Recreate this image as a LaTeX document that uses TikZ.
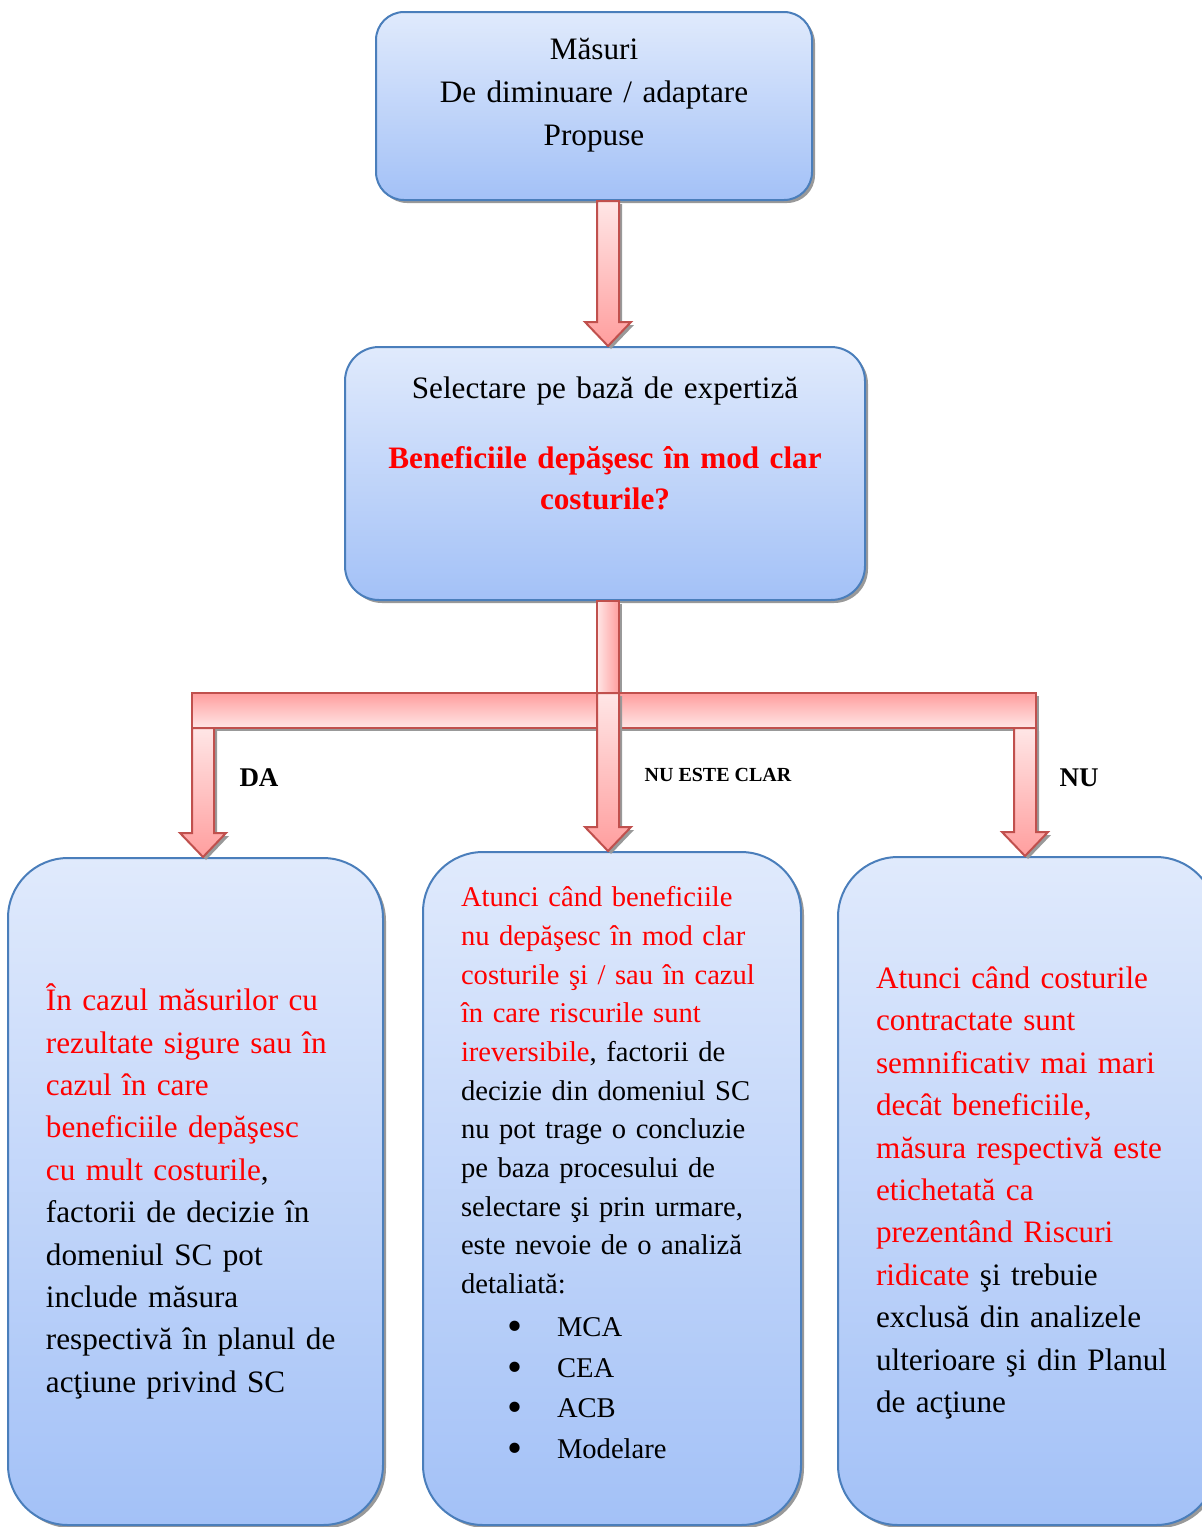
\documentclass[tikz,border=0pt]{standalone}
\usepackage{fontspec}
\setmainfont{Liberation Serif}
\definecolor{boxtop}{RGB}{224,234,252}
\definecolor{boxbot}{RGB}{163,193,247}
\definecolor{boxline}{RGB}{74,126,187}
\definecolor{arrline}{RGB}{192,80,77}
\definecolor{arrlight}{RGB}{255,230,230}
\definecolor{arrdark}{RGB}{255,158,158}
\definecolor{txtred}{RGB}{255,0,0}
\usetikzlibrary{calc, shadows}
\tikzset{
	box/.style={rectangle, rounded corners=#1, draw=boxline, line width=1pt, top color=boxtop, bottom color=boxbot, drop shadow={shadow xshift=1.5pt, shadow yshift=-1.5pt, fill=black!40, opacity=1}},
	box/.default=14pt,
	blockarrow/.style={draw=arrline, line width=1pt, line join=miter, top color=arrlight, bottom color=arrdark, drop shadow={shadow xshift=1.5pt, shadow yshift=-1.5pt, fill=black!40, opacity=1}},
	boxtext/.style={inner sep=0pt, align=left, text width=#1, font=\fontsize{15.6}{21.2}\selectfont},
	smalltext/.style={inner sep=0pt, align=left, text width=#1, font=\fontsize{14.3}{19.35}\selectfont},
	answer/.style={inner sep=0pt, font=\bfseries\fontsize{13.5}{16}\selectfont},
}
\newcommand{\rd}[1]{\textcolor{txtred}{#1}}
\newcommand{\bul}[1]{\hspace*{23pt}\makebox[25pt][l]{\raisebox{-2pt}{\scalebox{1.5}{\textbullet}}}#1}
% block arrow pointing down: start of the shaft, tip
\newcommand{\blockdown}[2]{%
	\path[blockarrow] ($(#1)+(-11,0)$) -- ($(#2)+(-11,-24)$) -- ($(#2)+(-23,-24)$) -- (#2)
		-- ($(#2)+(23,-24)$) -- ($(#2)+(11,-24)$) -- ($(#1)+(11,0)$) -- cycle;}

\begin{document}
\begin{tikzpicture}[x=0.5pt, y=-0.5pt]
	\useasboundingbox (0,0) rectangle (1202,1527);
	\clip (0,0) rectangle (1202,1527);
	% boxes
	\node[box, minimum width=218pt, minimum height=94pt] (top) at (594,106) {};
	\node[box=17pt, minimum width=260pt, minimum height=126.5pt] (sel) at (605,473.5) {};
	\node[box=30pt, minimum width=187.5pt, minimum height=333.5pt] (da) at (195.5,1191.5) {};
	\node[box=30pt, minimum width=189pt, minimum height=336.5pt] (unclear) at (612,1188.5) {};
	\node[box=30pt, minimum width=189pt, minimum height=334pt] (nu) at (1027,1191) {};
	% texts
	\node[boxtext=218pt, align=center, font=\fontsize{15.6}{21.5}\selectfont] (top-txt) at ($(top.center)+(0,-11)$)
		{Măsuri\\De diminuare / adaptare\\Propuse};
	\node[boxtext=260pt, align=center, font=\fontsize{15.6}{20.5}\selectfont] (sel-txt) at ($(sel.center)+(0,-30)$)
		{Selectare pe bază de expertiză\\[14.5pt]
		\rd{\textbf{Beneficiile depăşesc în mod clar}}\\
		\rd{\textbf{costurile?}}};
	\node[boxtext=149.5pt] (da-txt) at (da.center)
		{\rd{În cazul măsurilor cu}\\
		\rd{rezultate sigure sau în}\\
		\rd{cazul în care}\\
		\rd{beneficiile depăşesc}\\
		\rd{cu mult costurile},\\
		factorii de decizie în\\
		domeniul SC pot\\
		include măsura\\
		respectivă în planul de\\
		acţiune privind SC};
	\node[smalltext=151pt] (unclear-txt) at ($(unclear.center)+(0,-14)$)
		{\rd{Atunci când beneficiile}\\
		\rd{nu depăşesc în mod clar}\\
		\rd{costurile şi / sau în cazul}\\
		\rd{în care riscurile sunt}\\
		\rd{ireversibile}, factorii de\\
		decizie din domeniul SC\\
		nu pot trage o concluzie\\
		pe baza procesului de\\
		selectare şi prin urmare,\\
		este nevoie de o analiză\\
		detaliată:\\[2pt]
		\bul{MCA}\\[1pt]
		\bul{CEA}\\[1pt]
		\bul{ACB}\\[1pt]
		\bul{Modelare}};
	\node[boxtext=151pt] (nu-txt) at ($(nu.center)+(0,2)$)
		{\rd{Atunci când costurile}\\
		\rd{contractate sunt}\\
		\rd{semnificativ mai mari}\\
		\rd{decât beneficiile,}\\
		\rd{măsura respectivă este}\\
		\rd{etichetată ca}\\
		\rd{prezentând Riscuri}\\
		\rd{ridicate} şi trebuie\\
		exclusă din analizele\\
		ulterioare şi din Planul\\
		de acţiune};
	% connectors
	\coordinate (axis) at (608,0);
	\coordinate (barNW) at (192,693);
	\coordinate (barSE) at (1036,728);
	\coordinate (daX) at (203,728);
	\coordinate (nuX) at (1025,728);
	\blockdown{top.south -| axis}{sel.north -| axis}
	\path[blockarrow, left color=arrlight, right color=arrdark]
		($(sel.south -| axis)+(-11,0)$) rectangle ($(axis |- barNW)+(11,0)$);
	\path[blockarrow, top color=arrdark, bottom color=arrlight] (barNW) rectangle (barSE);
	\blockdown{daX}{da.north -| daX}
	\blockdown{nuX}{nu.north -| nuX}
	\blockdown{axis |- barNW}{unclear.north -| axis}
	% answers
	\node[answer] (da-lbl) at (259,778) {DA};
	\node[answer, font=\bfseries\fontsize{10}{12}\selectfont] (unclear-lbl) at (718,775) {NU ESTE CLAR};
	\node[answer] (nu-lbl) at (1079,778) {NU};
\end{tikzpicture}
\end{document}
